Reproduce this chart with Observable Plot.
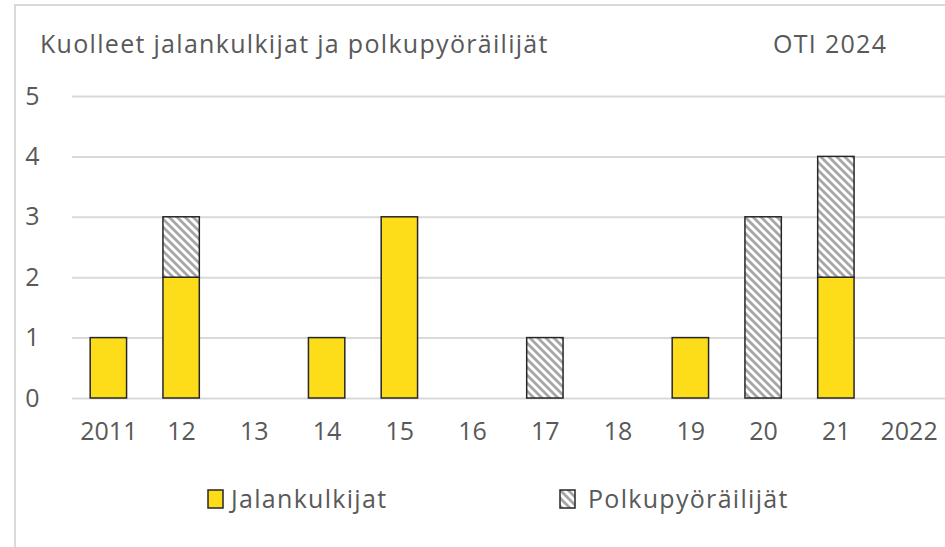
<!DOCTYPE html>
<html>
<head>
<meta charset="utf-8">
<script src="https://cdn.jsdelivr.net/npm/d3@7"></script>
<script src="https://cdn.jsdelivr.net/npm/@observablehq/plot@0.6"></script>
<style>
  html, body { margin: 0; padding: 0; background: #fff; }
  #wrap { position: relative; width: 945px; height: 547px; overflow: hidden; font-family: "Open Sans", sans-serif; color: #595959; }
  #frame { position: absolute; left: 14px; top: 4px; width: 940px; height: 560px; border-left: 2px solid #d9d9d9; border-top: 2px solid #d9d9d9; }
  .t { position: absolute; font-size: 25px; line-height: 1; letter-spacing: 1.3px; white-space: nowrap; }
  #chart { position: absolute; left: 0; top: 0; }
  .sw { position: absolute; }
</style>
</head>
<body>
<div id="wrap">
  <div id="frame"></div>
  <div id="chart"></div>
  <div class="t" id="title" style="left:40px; top:31px;"></div>
  <div class="t" id="src" style="left:773px; top:31px;"></div>
  <div id="legend"></div>
</div>
<script>
const titleText = "Kuolleet jalankulkijat ja polkupyöräilijät";
const sourceText = "OTI 2024";
const years = ["2011", "12", "13", "14", "15", "16", "17", "18", "19", "20", "21", "2022"];
const jalankulkijat = [1, 2, 0, 1, 3, 0, 0, 0, 1, 0, 2, 0];
const polkupyorailijat = [0, 1, 0, 0, 0, 0, 1, 0, 0, 3, 2, 0];
const seriesNames = ["Jalankulkijat", "Polkupyöräilijät"];
const yTicks = [0, 1, 2, 3, 4, 5];

const seriesValues = [jalankulkijat, polkupyorailijat];
const data = [];
years.forEach((year, i) => {
  seriesNames.forEach((s, k) => {
    if (seriesValues[k][i] > 0) data.push({year, series: s, value: seriesValues[k][i]});
  });
});

const yellow = "#fddc1a";
const hatchDef = (id) => `<pattern id="${id}" patternUnits="userSpaceOnUse" width="8" height="8">
  <rect width="8" height="8" fill="#ffffff"/>
  <path d="M-2,-2 L10,10 M-2,6 L2,10 M6,-2 L10,2" stroke="#a6a6a6" stroke-width="2.8"/>
</pattern>`;

const chart = Plot.plot({
  width: 945,
  height: 460,
  marginTop: 96,
  marginBottom: 62,
  marginLeft: 72,
  marginRight: 0,
  style: {fontFamily: "'Open Sans', sans-serif", fontSize: "25px", color: "#595959", background: "transparent"},
  x: {domain: years, paddingInner: 0.5, paddingOuter: 0.25, round: false, label: null},
  y: {domain: [0, 5], label: null},
  color: {domain: seriesNames, range: [yellow, "url(#hatch)"]},
  marks: [
    Plot.ruleY(yTicks, {stroke: "#d9d9d9", strokeWidth: 2}),
    Plot.barY(data, {x: "year", y: "value", fill: "series", stroke: "#262626", strokeWidth: 1.5}),
    Plot.axisX({tickSize: 0, tickPadding: 24, fontSize: 25, style: {letterSpacing: "1px"}}),
    Plot.axisY({ticks: yTicks, tickFormat: "d", tickSize: 0, tickPadding: 33, fontSize: 25})
  ]
});
d3.select(chart).insert("defs", ":first-child").html(hatchDef("hatch"));
document.getElementById("chart").appendChild(chart);

document.getElementById("title").textContent = titleText;
document.getElementById("src").textContent = sourceText;

// legend entries: swatch box + label
const legendPos = [{sw: 207, tx: 231}, {sw: 559, tx: 588}];
const legend = document.getElementById("legend");
seriesNames.forEach((s, k) => {
  const fill = k === 0 ? yellow : `url(#hatchLeg)`;
  const defs = k === 0 ? "" : `<defs>${hatchDef("hatchLeg")}</defs>`;
  const sw = document.createElement("div");
  sw.className = "sw";
  sw.style.left = legendPos[k].sw + "px";
  sw.style.top = "489px";
  sw.innerHTML = `<svg width="18" height="21" style="display:block">${defs}<rect x="1" y="1" width="15" height="18" fill="${fill}" stroke="#262626" stroke-width="1.5"/></svg>`;
  legend.appendChild(sw);
  const tx = document.createElement("div");
  tx.className = "t";
  tx.style.left = legendPos[k].tx + "px";
  tx.style.top = "486px";
  tx.textContent = s;
  legend.appendChild(tx);
});
</script>
</body>
</html>
